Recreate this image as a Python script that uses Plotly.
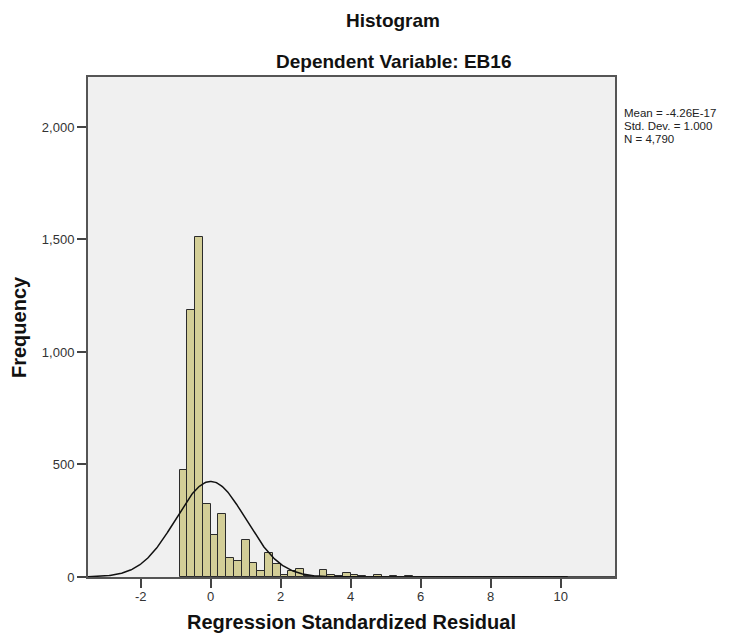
import numpy as np
import plotly.graph_objects as go

# ---- data ----
bin_width = 2 / 9
first_bin_left = -8 / 9
counts = [475, 1187, 1510, 323, 186, 279, 86, 70, 163, 62, 25, 106, 56, 11, 27, 37,
          3, 2, 31, 9, 3, 19, 11, 3, 2, 8, 1, 3, 1, 3, 1, 1, 2, 2, 2, 2, 0, 1, 2, 2,
          1, 0, 1, 1, 2, 1, 0, 0, 0, 1]
mean_val = 0.0
sd_val = 1.0
n_total = 4790
x_tick_vals = [-2, 0, 2, 4, 6, 8, 10]
x_tick_text = ["-2", "0", "2", "4", "6", "8", "10"]
y_tick_vals = [0, 500, 1000, 1500, 2000]
y_tick_text = ["0", "500", "1,000", "1,500", "2,000"]
stats_lines = ["Mean = -4.26E-17", "Std. Dev. = 1.000", "N = 4,790"]

x_range = [-3.506, 11.551]
y_range = [0, 2222]

centers = first_bin_left + (np.arange(len(counts)) + 0.5) * bin_width

# fitted normal curve (as drawn by SPSS)
xc = np.linspace(x_range[0], x_range[1], 600)
yc = n_total * bin_width / (sd_val * np.sqrt(2 * np.pi)) * np.exp(-0.5 * ((xc - mean_val) / sd_val) ** 2)

FONT = "Liberation Sans, Arial, sans-serif"

fig = go.Figure()
fig.add_trace(go.Bar(
    x=centers, y=counts, width=bin_width,
    marker=dict(color="#D3CE97", line=dict(color="#2b2b2b", width=1)),
    showlegend=False, hoverinfo="x+y",
))
fig.add_trace(go.Scatter(
    x=xc, y=yc, mode="lines", line=dict(color="#111111", width=1.5),
    showlegend=False, hoverinfo="skip",
))

fig.update_layout(
    width=738, height=637,
    margin=dict(l=88, r=123, t=77, b=60),
    paper_bgcolor="white",
    plot_bgcolor="#F0F0F0",
    font=dict(family=FONT, size=13, color="#333333"),
    bargap=0,
)
fig.update_xaxes(
    range=x_range, tickvals=x_tick_vals, ticktext=x_tick_text,
    ticks="outside", ticklen=9, tickwidth=1.5, tickcolor="#444444",
    ticklabelstandoff=-3, automargin=False,
    showline=True, mirror=True, linecolor="#555555", linewidth=2,
    showgrid=False, zeroline=False,
    tickfont=dict(family=FONT, size=13, color="#333333"),
)
fig.update_yaxes(
    range=y_range, tickvals=y_tick_vals, ticktext=y_tick_text,
    ticks="outside", ticklen=9, tickwidth=1.5, tickcolor="#444444",
    automargin=False,
    showline=True, mirror=True, linecolor="#555555", linewidth=2,
    showgrid=False, zeroline=False,
    tickfont=dict(family=FONT, size=13, color="#333333"),
)

# axis titles
fig.add_annotation(text="<b>Regression Standardized Residual</b>", xref="paper", yref="paper",
                   x=0.5, y=(577 - 622) / 500, xanchor="center", yanchor="middle",
                   showarrow=False, font=dict(family=FONT, size=20, color="#111111"))
fig.add_annotation(text="<b>Frequency</b>", xref="paper", yref="paper",
                   x=(19 - 88) / 527, y=0.5, xanchor="center", yanchor="middle",
                   textangle=-90, showarrow=False,
                   font=dict(family=FONT, size=20, color="#111111"))

# titles
title_cx = (393 - 88) / 527
fig.add_annotation(text="<b>Histogram</b>", xref="paper", yref="paper",
                   x=title_cx, y=(577 - 21) / 500, xanchor="center", yanchor="middle",
                   showarrow=False, font=dict(family=FONT, size=19, color="#111111"))
fig.add_annotation(text="<b>Dependent Variable: EB16</b>", xref="paper", yref="paper",
                   x=title_cx, y=(577 - 62) / 500, xanchor="center", yanchor="middle",
                   showarrow=False, font=dict(family=FONT, size=19, color="#111111"))

# stats box
for i, line in enumerate(stats_lines):
    fig.add_annotation(text=line, xref="paper", yref="paper",
                       x=(622 - 88) / 527, y=(577 - (113 + 13 * i)) / 500,
                       xanchor="left", yanchor="middle", showarrow=False,
                       font=dict(family=FONT, size=11.5, color="#222222"))

fig.write_html("out.html")
